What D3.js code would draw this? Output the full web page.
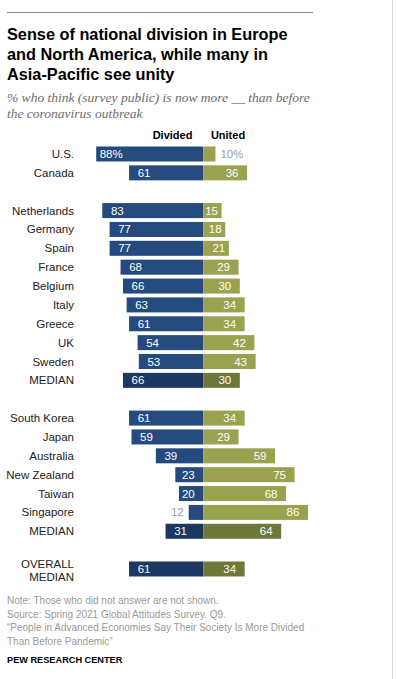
<!DOCTYPE html>
<html>
<head>
<meta charset="utf-8">
<script src="https://cdn.jsdelivr.net/npm/d3@7"></script>
<style>
  body { margin: 0; background: #fff; }
  text { font-family: "Liberation Sans", Arial, sans-serif; }
</style>
</head>
<body>
<svg id="chart"></svg>
<script>
// Chart data
const countries = ["U.S.", "Canada", "Netherlands", "Germany", "Spain", "France", "Belgium", "Italy",
    "Greece", "UK", "Sweden", "MEDIAN", "South Korea", "Japan", "Australia", "New Zealand",
    "Taiwan", "Singapore", "MEDIAN", "OVERALL MEDIAN"];
const groups = [0, 0, 1, 1, 1, 1, 1, 1, 1, 1, 1, 1, 2, 2, 2, 2, 2, 2, 2, 3];
const divided = [88, 61, 83, 77, 77, 68, 66, 63, 61, 54, 53, 66, 61, 59, 39, 23, 20, 12, 31, 61];
const united = [10, 36, 15, 18, 21, 29, 30, 34, 34, 42, 43, 30, 34, 29, 59, 75, 68, 86, 64, 34];
const seriesLabels = ["Divided", "United"];

const titleLines = ["Sense of national division in Europe", "and North America, while many in", "Asia-Pacific see unity"];
const subtitleLines = ["% who think (survey public) is now more __ than before", "the coronavirus outbreak"];
const noteLines = ["Note: Those who did not answer are not shown.",
    "Source: Spring 2021 Global Attitudes Survey. Q9.",
    "\u201cPeople in Advanced Economies Say Their Society Is More Divided",
    "Than Before Pandemic\u201d"];

const W = 396, H = 679;
const svg = d3.select("#chart").attr("width", W).attr("height", H);

const rows = countries.map((name, i) => ({
    name, slot: i + groups[i], divided: divided[i], united: united[i],
    median: name.includes("MEDIAN"), first: i === 0
}));

// scales
const x = d3.scaleLinear().domain([-100, 100]).range([81.6, 325]);
const y = d3.scaleLinear().domain([0, 22]).range([154, 569]);
const barH = 15;
const x0 = x(0);

const colors = {
    divided: "#244a7e", dividedMed: "#1c3862",
    united: "#9aa24f", unitedMed: "#70773a"
};

// top rule and right border
svg.append("line").attr("x1", 7).attr("x2", 313).attr("y1", 12.5).attr("y2", 12.5)
    .attr("stroke", "#8a8a8a").attr("stroke-width", 1);
svg.append("line").attr("x1", 392.5).attr("x2", 392.5).attr("y1", 0).attr("y2", H)
    .attr("stroke", "#dcdcdc").attr("stroke-width", 1);

// title
svg.append("g").selectAll("text").data(titleLines).enter().append("text")
    .attr("x", 7).attr("y", (d, i) => 40 + i * 20)
    .attr("font-size", 16.3).attr("font-weight", "bold").attr("fill", "#000")
    .text(d => d);

// subtitle
svg.append("g").selectAll("text").data(subtitleLines).enter().append("text")
    .attr("x", 7).attr("y", (d, i) => 102 + i * 16)
    .style("font-family", "'Liberation Serif', Georgia, serif")
    .attr("font-style", "italic").attr("font-size", 13.5).attr("fill", "#6b6b6b")
    .text(d => d);

// column headers
svg.append("g").selectAll("text").data(seriesLabels).enter().append("text")
    .attr("x", (d, i) => i === 0 ? 172.5 : 228)
    .attr("y", 139)
    .attr("text-anchor", "middle")
    .attr("font-size", 11).attr("font-weight", "bold").attr("fill", "#000")
    .text(d => d);

const row = svg.append("g").selectAll("g").data(rows).enter().append("g")
    .attr("transform", d => `translate(0, ${y(d.slot)})`);

// country labels
row.each(function (d) {
    const g = d3.select(this);
    const lines = d.name === "OVERALL MEDIAN" ? ["OVERALL", "MEDIAN"] : [d.name];
    g.selectAll("text.lab").data(lines).enter().append("text")
        .attr("class", "lab")
        .attr("x", 74)
        .attr("y", (l, i) => lines.length > 1 ? -1 + i * 12.5 : 4)
        .attr("text-anchor", "end")
        .attr("font-size", 11.5).attr("fill", "#222")
        .text(l => l);
});

// divided bars
row.append("rect")
    .attr("x", d => x(-d.divided)).attr("y", -barH / 2)
    .attr("width", d => x0 - x(-d.divided)).attr("height", barH)
    .attr("fill", d => d.median ? colors.dividedMed : colors.divided);

// united bars
row.append("rect")
    .attr("x", x0).attr("y", -barH / 2)
    .attr("width", d => x(d.united) - x0).attr("height", barH)
    .attr("fill", d => d.median ? colors.unitedMed : colors.united);

// divided value labels
row.append("text")
    .attr("y", 4)
    .attr("font-size", 11.5)
    .each(function (d) {
        const t = d3.select(this);
        const start = x(-d.divided);
        const txt = d.first ? d.divided + "%" : d.divided;
        if (d.divided < 13) {
            t.attr("x", start - 5).attr("text-anchor", "end").attr("fill", "#a0a0a0");
        } else {
            t.attr("x", Math.min(start + 15, x0 - 15)).attr("text-anchor", "middle").attr("fill", "#fff");
        }
        t.text(txt);
    });

// united value labels
row.append("text")
    .attr("y", 4)
    .attr("font-size", 11.5)
    .each(function (d) {
        const t = d3.select(this);
        const end = x(d.united);
        const txt = d.first ? d.united + "%" : d.united;
        if (d.united < 13) {
            t.attr("x", end + 5).attr("text-anchor", "start").attr("fill", "#a0a0a0");
        } else {
            t.attr("x", d.united < 25 ? end - 10 : end - 15).attr("text-anchor", "middle").attr("fill", "#fff");
        }
        t.text(txt);
    });

// footer notes
svg.append("g").selectAll("text").data(noteLines).enter().append("text")
    .attr("x", 7).attr("y", (d, i) => 604 + i * 13.7)
    .attr("font-size", 10).attr("fill", "#9a9a9a")
    .text(d => d);

svg.append("text")
    .attr("x", 7).attr("y", 663)
    .attr("font-size", 9.2).attr("font-weight", "bold").attr("fill", "#000")
    .text("PEW RESEARCH CENTER");
</script>
</body>
</html>
